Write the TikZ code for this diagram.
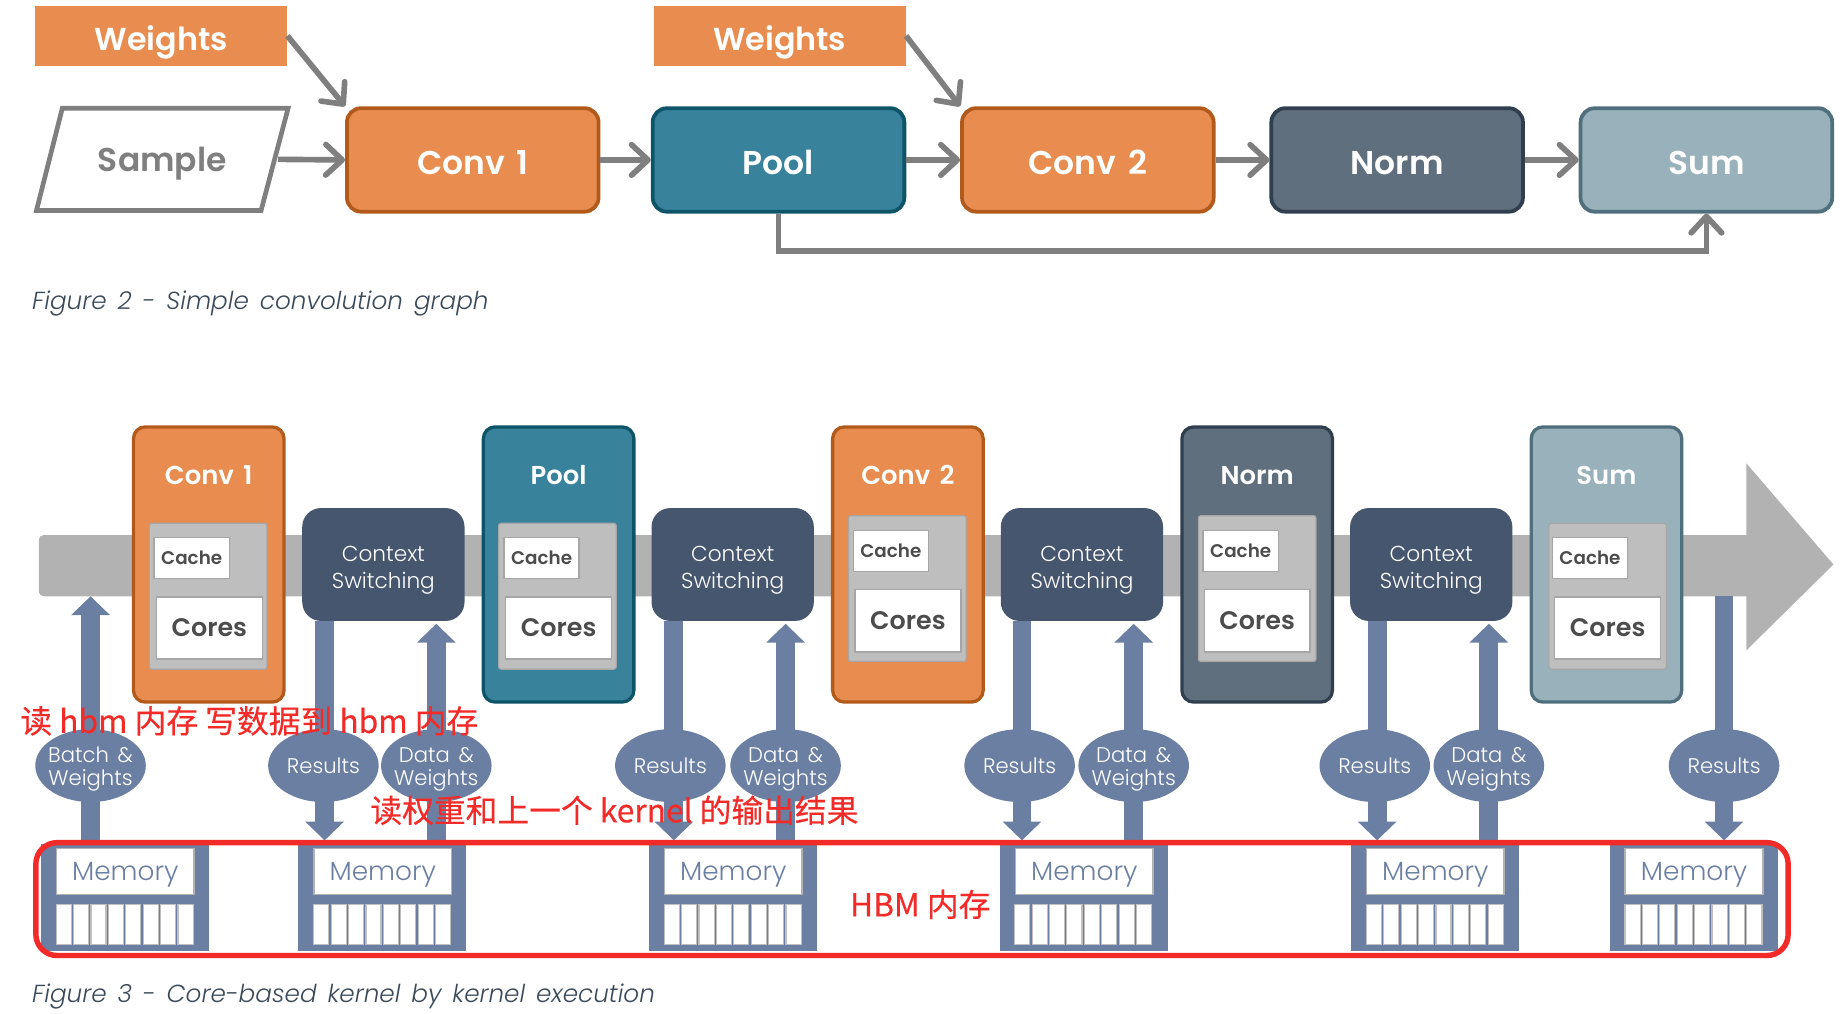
\documentclass[tikz,border=0pt]{standalone}
\usepackage{fontspec}
\setmainfont{Poppins}[UprightFont={Poppins Light},BoldFont={Poppins SemiBold},ItalicFont={Poppins Light Italic},WordSpace=1.5]
\newfontfamily\cjk{Noto Sans CJK SC}[FakeBold=0.4]
\usepackage{tikz}
\usetikzlibrary{positioning,arrows.meta,calc,shapes.geometric,backgrounds}
\usepackage{xcolor}
\definecolor{convorange}{RGB}{232,141,79}
\definecolor{convedge}{RGB}{178,90,28}
\definecolor{poolteal}{RGB}{56,130,156}
\definecolor{pooledge}{RGB}{13,84,104}
\definecolor{normslate}{RGB}{95,111,125}
\definecolor{normedge}{RGB}{47,63,79}
\definecolor{sumpale}{RGB}{153,177,187}
\definecolor{sumedge}{RGB}{79,111,124}
\definecolor{ctxnavy}{RGB}{70,86,111}
\definecolor{hbmblue}{RGB}{107,127,163}
\definecolor{flowgray}{RGB}{127,127,127}
\definecolor{bargray}{RGB}{178,178,178}
\definecolor{panelgray}{RGB}{190,190,190}
\definecolor{captionink}{RGB}{59,74,90}
\definecolor{hbmred}{RGB}{242,43,40}

\begin{document}
\begin{tikzpicture}[
  x=0.5pt,y=-0.5pt,
  weightbox/.style={fill=convorange,text=white,font=\fontsize{13.5}{16}\selectfont\bfseries,minimum width=107pt,minimum height=25.5pt,inner sep=0pt,text height=12.5pt,text depth=0pt},
  sampleshape/.style={draw=flowgray,line width=2pt,fill=white},
  samplelab/.style={text=flowgray,font=\fontsize{14}{16}\selectfont\bfseries,minimum width=98pt,minimum height=30pt,inner sep=0pt,text height=10.5pt,text depth=0pt},
  stagebox/.style={rounded corners=6pt,line width=1.6pt,text=white,font=\fontsize{14}{16}\selectfont\bfseries,minimum width=107pt,minimum height=44pt,inner sep=0pt,text height=12.5pt,text depth=0pt},
  kernbox/.style={rounded corners=5pt,line width=1.4pt,minimum width=64pt,minimum height=117pt,inner sep=0pt},
  kernlab/.style={text=white,font=\fontsize{11}{13}\selectfont\bfseries,inner sep=0pt,text height=9pt,text depth=0pt},
  corepanel/.style={rounded corners=1pt,draw=gray!70,fill=panelgray,line width=0.5pt,minimum width=50pt,minimum height=62pt,inner sep=0pt},
  cachelab/.style={draw=gray!70,fill=white,text=black!70,line width=0.6pt,font=\fontsize{7.8}{10}\selectfont\bfseries,minimum width=32pt,minimum height=17.5pt,inner sep=0pt},
  coreslab/.style={draw=gray!70,fill=white,text=black!70,line width=0.6pt,font=\fontsize{10.8}{13}\selectfont\bfseries,minimum width=45pt,minimum height=26.5pt,inner sep=0pt},
  ctxbox/.style={rounded corners=8pt,fill=ctxnavy,text=white,align=center,font=\fontsize{9.2}{11.5}\selectfont,minimum width=69pt,minimum height=48pt,inner sep=0pt},
  busbubble/.style={ellipse,fill=hbmblue,text=white,align=center,font=\fontsize{9}{9.6}\selectfont,minimum width=47pt,minimum height=31pt,inner sep=-4pt},
  membox/.style={fill=hbmblue,minimum width=71.5pt,minimum height=45.5pt,inner sep=0pt},
  memlab/.style={draw=gray!60,fill=white,text=hbmblue,line width=0.7pt,font=\fontsize{11.2}{13}\selectfont,minimum width=58.5pt,minimum height=19.5pt,inner sep=0pt,text height=8pt,text depth=0pt},
  memcell/.style={draw=gray!50,fill=white,line width=0.5pt,minimum width=6.4pt,minimum height=17pt,inner sep=0pt},
  flow/.style={draw=flowgray,line width=2.4pt,-{Straight Barb[length=7pt,width=13pt,round]}},
  busarrow/.style={draw=hbmblue,line width=8pt,-{Triangle[width=16pt,length=8pt]}},
  caption lab/.style={anchor=west,text=captionink,font=\fontsize{10.5}{12}\selectfont\itshape,inner sep=0pt},
  red lab/.style={text=hbmred,font=\fontsize{13.5}{16}\cjk,inner sep=0pt}
]
\useasboundingbox (0,0) rectangle (1568,862);

% Upper graph
\node[weightbox] (weights1) at (137,30.5) {Weights};
\node[weightbox] (weights2) at (663,30.5) {Weights};
\draw[sampleshape] (53,92) -- (245,92) -- (222,179) -- (31,179) -- cycle;
\node[samplelab] (sample) at (138,135.5) {Sample};
\node[stagebox,fill=convorange,draw=convedge] (conv1) at (402,136) {Conv 1};
\node[stagebox,fill=poolteal,draw=pooledge] (pool) at (662,136) {Pool};
\node[stagebox,fill=convorange,draw=convedge] (conv2) at (925,136) {Conv 2};
\node[stagebox,fill=normslate,draw=normedge] (norm) at (1188,136) {Norm};
\node[stagebox,fill=sumpale,draw=sumedge] (sum) at (1451,136) {Sum};

\draw[flow] (weights1.east) -- (conv1.north west);
\draw[flow] (weights2.east) -- (conv2.north west);
\draw[flow] (sample.east) -- (conv1.west);
\draw[flow] (conv1) -- (pool);
\draw[flow] (pool) -- (conv2);
\draw[flow] (conv2) -- (norm);
\draw[flow] (norm) -- (sum);
\draw[flow] (pool.south) -- ++(0,32) -| (sum.south);

\node[caption lab] (cap2) at (27,258) {Figure 2 - Simple convolution graph};

% Time bar (with its big head)
\begin{scope}[on background layer]
\fill[bargray] (1485,455) [rounded corners=2pt] -- (33,455) -- (33,507) [sharp corners] -- (1485,507) -- (1485,553) -- (1559,480) -- (1485,394) -- cycle;
\end{scope}
\coordinate (barlow) at (77,507);

% Memory blocks
\node[membox] (mem1) at (106.5,763.5) {};
\node[membox] (mem2) at (324.5,763.5) {};
\node[membox] (mem3) at (623.5,763.5) {};
\node[membox] (mem4) at (921.5,763.5) {};
\node[membox] (mem5) at (1220.5,763.5) {};
\node[membox] (mem6) at (1440.5,763.5) {};
\node[memlab] (memlab1) at (106.5,741) {Memory};
\node[memlab] (memlab2) at (325.5,741) {Memory};
\node[memlab] (memlab3) at (623.5,741) {Memory};
\node[memlab] (memlab4) at (922,741) {Memory};
\node[memlab] (memlab5) at (1220.5,741) {Memory};
\node[memlab] (memlab6) at (1440.5,741) {Memory};
\foreach \m/\mx in {1/48,2/267,3/565,4/863,5/1162,6/1382}
  \foreach \i in {0,...,7}
    \node[memcell] (cell\m-\i) at ({\mx+6.2+\i*14.8},786) {};

% Bubbles on the buses
\node[busbubble] (batch) at (77,651) {\rule{0pt}{9.5pt}Batch \&\\Weights};
\node[busbubble] (res1) at (275,651) {Results};
\node[busbubble] (data1) at (371,651) {\rule{0pt}{9.5pt}Data \&\\Weights};
\node[busbubble] (res2) at (570,651) {Results};
\node[busbubble] (data2) at (668,651) {\rule{0pt}{9.5pt}Data \&\\Weights};
\node[busbubble] (res3) at (867,651) {Results};
\node[busbubble] (data3) at (964,651) {\rule{0pt}{9.5pt}Data \&\\Weights};
\node[busbubble] (res4) at (1169,651) {Results};
\node[busbubble] (data4) at (1266,651) {\rule{0pt}{9.5pt}Data \&\\Weights};
\node[busbubble] (res5) at (1466,651) {Results};

% Context switches
\node[ctxbox] (ctx1) at (326,480) {\rule{0pt}{11pt}Context\\Switching};
\node[ctxbox] (ctx2) at (623,480) {\rule{0pt}{11pt}Context\\Switching};
\node[ctxbox] (ctx3) at (920,480) {\rule{0pt}{11pt}Context\\Switching};
\node[ctxbox] (ctx4) at (1217,480) {\rule{0pt}{11pt}Context\\Switching};

% Buses
\begin{scope}[on background layer]
\draw[busarrow] (batch |- mem1.north) -- (batch |- barlow);
\draw[busarrow,shorten >=1.5pt] ([xshift=0.5pt]res1 |- ctx1.south) -- ([xshift=0.5pt]res1 |- mem2.north);
\draw[busarrow,shorten >=1pt] (data1 |- mem2.north) -- (data1 |- ctx1.south);
\draw[busarrow,shorten >=1.5pt] ([xshift=1.5pt]res2 |- ctx2.south) -- ([xshift=1.5pt]res2 |- mem3.north);
\draw[busarrow,shorten >=1pt] (data2 |- mem3.north) -- (data2 |- ctx2.south);
\draw[busarrow,shorten >=1.5pt] ([xshift=1pt]res3 |- ctx3.south) -- ([xshift=1pt]res3 |- mem4.north);
\draw[busarrow,shorten >=1pt] (data3 |- mem4.north) -- (data3 |- ctx3.south);
\draw[busarrow,shorten >=1.5pt] ([xshift=1pt]res4 |- ctx4.south) -- ([xshift=1pt]res4 |- mem5.north);
\draw[busarrow,shorten >=1pt] (data4 |- mem5.north) -- (data4 |- ctx4.south);
\draw[busarrow,shorten >=1.5pt] (res5 |- barlow) -- (res5 |- mem6.north);
\end{scope}

% Kernel Conv 1
\node[kernbox,fill=convorange,draw=convedge] (kconv1) at (177.5,480) {};
\node[kernlab] (kconv1lab) at (177.5,403) {Conv 1};
\node[corepanel] (panel1) at (177,507) {};
\node[cachelab] (cache1) at (163,474.5) {Cache};
\node[coreslab] (cores1) at (178,534) {Cores};

% Kernel Pool
\node[kernbox,fill=poolteal,draw=pooledge] (kpool) at (475,480) {};
\node[kernlab] (kpoollab) at (475,403) {Pool};
\node[corepanel] (panel2) at (474,507) {};
\node[cachelab] (cache2) at (460.5,474.5) {Cache};
\node[coreslab] (cores2) at (475,534) {Cores};

% Kernel Conv 2
\node[kernbox,fill=convorange,draw=convedge] (kconv2) at (772,480) {};
\node[kernlab] (kconv2lab) at (772,403) {Conv 2};
\node[corepanel] (panel3) at (771.5,500.5) {};
\node[cachelab] (cache3) at (757.5,468.5) {Cache};
\node[coreslab] (cores3) at (772,528) {Cores};

% Kernel Norm
\node[kernbox,fill=normslate,draw=normedge] (knorm) at (1069,480) {};
\node[kernlab] (knormlab) at (1069,403) {Norm};
\node[corepanel] (panel4) at (1069,500.5) {};
\node[cachelab] (cache4) at (1055,468.5) {Cache};
\node[coreslab] (cores4) at (1069,528) {Cores};

% Kernel Sum
\node[kernbox,fill=sumpale,draw=sumedge] (ksum) at (1366,480) {};
\node[kernlab] (ksumlab) at (1366,403) {Sum};
\node[corepanel] (panel5) at (1367,507) {};
\node[cachelab] (cache5) at (1352,474.5) {Cache};
\node[coreslab] (cores5) at (1367,534) {Cores};

\node[caption lab] (cap3) at (27,847) {Figure 3 - Core-based kernel by kernel execution};

% Red notes
\node[draw=hbmred,line width=2.3pt,rounded corners=9pt,minimum width=745pt,minimum height=48pt,inner sep=0pt] (hbm) at (775.5,764.5) {};
\node[red lab] (readnote) at (212,613) {读 hbm 内存 写数据到 hbm 内存};
\node[red lab] (weightnote) at (522.5,689) {读权重和上一个 kernel 的输出结果};
\node[red lab] (hbmnote) at (782.5,769) {HBM 内存};
\end{tikzpicture}
\end{document}
